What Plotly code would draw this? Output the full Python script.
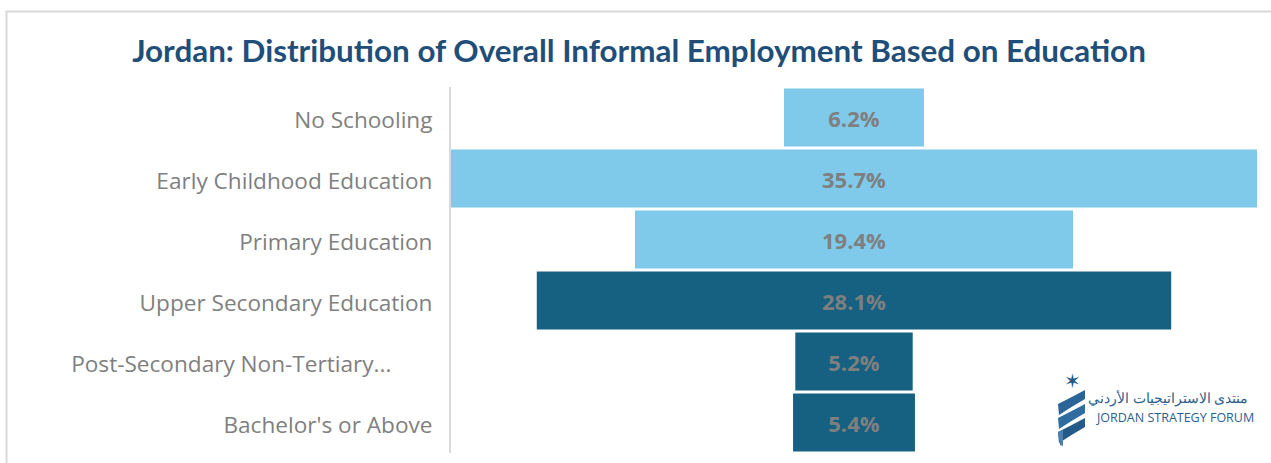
import plotly.graph_objects as go

# Share of informal employment by education level (%)
categories = [
    "No Schooling",
    "Early Childhood Education",
    "Primary Education",
    "Upper Secondary Education",
    "Post-Secondary Non-Tertiary...",
    "Bachelor's or Above",
]
values = [6.2, 35.7, 19.4, 28.1, 5.2, 5.4]
bar_colors = ["#7FC9EA", "#7FC9EA", "#7FC9EA", "#166082", "#166082", "#166082"]

W, H = 1271, 463
ML, MR, MT, MB = 451, 14, 87, 10
PW, PH = W - ML - MR, H - MT - MB


def px(x):
    return (x - ML) / PW


def py(y):
    return (H - MB - y) / PH


half = max(values) / 2
tick_text = [c if not c.endswith("...") else c + "\u00a0" * 7 for c in categories]

fig = go.Figure(
    go.Bar(
        orientation="h",
        y=categories,
        x=values,
        base=[-v / 2 for v in values],
        marker=dict(color=bar_colors, line=dict(width=0)),
        text=[f"{v:.1f}%" for v in values],
        textposition="inside",
        insidetextanchor="middle",
        constraintext="none",
        textfont=dict(family="Open Sans", size=22, color="#7F7F7F", weight="bold"),
        hoverinfo="skip",
    )
)

shapes = [
    # outer frame
    dict(type="rect", xref="paper", yref="paper",
         x0=px(6.5), x1=px(1300), y0=py(11.5), y1=py(500),
         line=dict(color="#D9D9D9", width=2), layer="below"),
]


def band(y0):
    """One swoosh of the forum emblem, rising from left to right."""
    p = [(1058, y0 + 2), (1070, y0 - 4), (1085, y0 - 12),
         (1085, y0 - 3), (1071, y0 + 5), (1059, y0 + 13)]
    return (f"M{px(p[0][0])},{py(p[0][1])} "
            f"Q{px(p[1][0])},{py(p[1][1])} {px(p[2][0])},{py(p[2][1])} "
            f"L{px(p[3][0])},{py(p[3][1])} "
            f"Q{px(p[4][0])},{py(p[4][1])} {px(p[5][0])},{py(p[5][1])} Z")


for y0, col in zip([402, 416, 430], ["#2B6597", "#2F6C9F", "#245A88"]):
    shapes.append(dict(type="path", xref="paper", yref="paper", path=band(y0),
                       fillcolor=col, line=dict(width=0)))
# lower tail of the emblem
shapes.append(dict(type="path", xref="paper", yref="paper",
                   path=(f"M{px(1058)},{py(432)} L{px(1063)},{py(430)} "
                         f"L{px(1063)},{py(446)} L{px(1060)},{py(445)} Z"),
                   fillcolor="#4A80B0", line=dict(width=0)))

fig.update_layout(
    width=W, height=H,
    margin=dict(l=ML, r=MR, t=MT, b=MB, pad=0),
    paper_bgcolor="white", plot_bgcolor="white",
    showlegend=False,
    bargap=0.05,
    title=dict(
        text="Jordan: Distribution of Overall Informal Employment Based on Education",
        x=(133 + 1145) / 2 / W, xanchor="center",
        y=1 - 51 / H, yanchor="middle",
        font=dict(family="Lato", size=31.4, color="#1F4E79", weight="bold"),
    ),
    xaxis=dict(range=[-half, half], visible=False, fixedrange=True),
    yaxis=dict(
        autorange="reversed",
        tickvals=categories, ticktext=tick_text,
        tickfont=dict(family="Open Sans", size=22.6, color="#7F7F7F"),
        ticklabelstandoff=12,
        ticklabelshift=-3,
        showline=True, linecolor="#D9D9D9", linewidth=2,
        showgrid=False, ticks="", zeroline=False,
    ),
    shapes=shapes,
    annotations=[
        dict(xref="paper", yref="paper", x=px(1071), y=py(381), text="✶",
             showarrow=False, xanchor="center", yanchor="middle", xshift=1,
             font=dict(family="DejaVu Sans", size=20, color="#245A88")),
        dict(xref="paper", yref="paper", x=px(1250), y=py(397), xanchor="right", yanchor="middle",
             text="منتدى الاستراتيجيات الأردني", showarrow=False,
             font=dict(family="Noto Sans", size=14, color="#2E5E8C")),
        dict(xref="paper", yref="paper", x=px(1094), y=py(417), xanchor="left", yanchor="middle",
             text="JORDAN STRATEGY FORUM", showarrow=False,
             font=dict(family="Open Sans", size=12.5, color="#2E5E8C")),
    ],
)

fig.write_html("out.html")
